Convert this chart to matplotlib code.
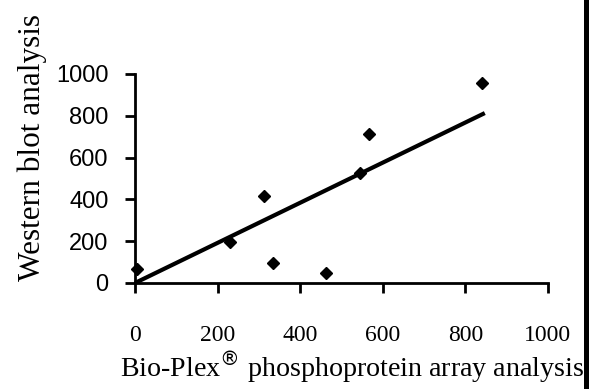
import numpy as np
import matplotlib.pyplot as plt
import matplotlib as mpl
from matplotlib.lines import Line2D

mpl.rcParams['axes.linewidth'] = 2

# Bio-Plex array vs western blot readings
bioplex = [5, 230, 313, 333, 463, 545, 566, 841]
western = [67, 195, 416, 96, 48, 526, 713, 957]

# regression line end points
fit_x = [0, 847]
fit_y = [0, 813]

ticks = [0, 200, 400, 600, 800, 1000]

fig = plt.figure(figsize=(5.91, 3.89), dpi=100)
axes = fig.add_axes([0.2284, 0.2725, 0.6988, 0.5373])

axes.plot(fit_x, fit_y, color='k', lw=3, solid_capstyle='butt', clip_on=False)
axes.plot(bioplex, western, 'D', color='k', markersize=6.2, clip_on=False)

axes.set_xlim(0, 1000)
axes.set_ylim(0, 1000)
axes.set_xticks(ticks)
axes.set_yticks(ticks)
axes.spines['top'].set_visible(False)
axes.spines['right'].set_visible(False)

axes.tick_params(axis='both', direction='out', length=7, width=2, color='k')
axes.tick_params(axis='x', pad=23)
axes.tick_params(axis='y', pad=12)
for lab in axes.get_xticklabels():
    lab.set_fontfamily('Liberation Serif')
    lab.set_fontsize(17)
for lab in axes.get_yticklabels():
    lab.set_fontfamily('Liberation Sans')
    lab.set_fontsize(17)

fig.text(120/591, 11/389, 'Bio-Plex$^{\\circledR}$ phosphoprotein array analysis',
         family='Liberation Serif', fontsize=20.2, ha='left', va='baseline')
fig.text(32/591, 0.62, 'Western blot analysis', family='Liberation Serif',
         fontsize=22.5, rotation=90, ha='center', va='center')

# black frame edge on the right
fig.add_artist(Line2D([585.5/591, 585.5/591], [0, 1], color='k', lw=3.6,
                      transform=fig.transFigure))

fig.savefig('out.png', dpi=100)
